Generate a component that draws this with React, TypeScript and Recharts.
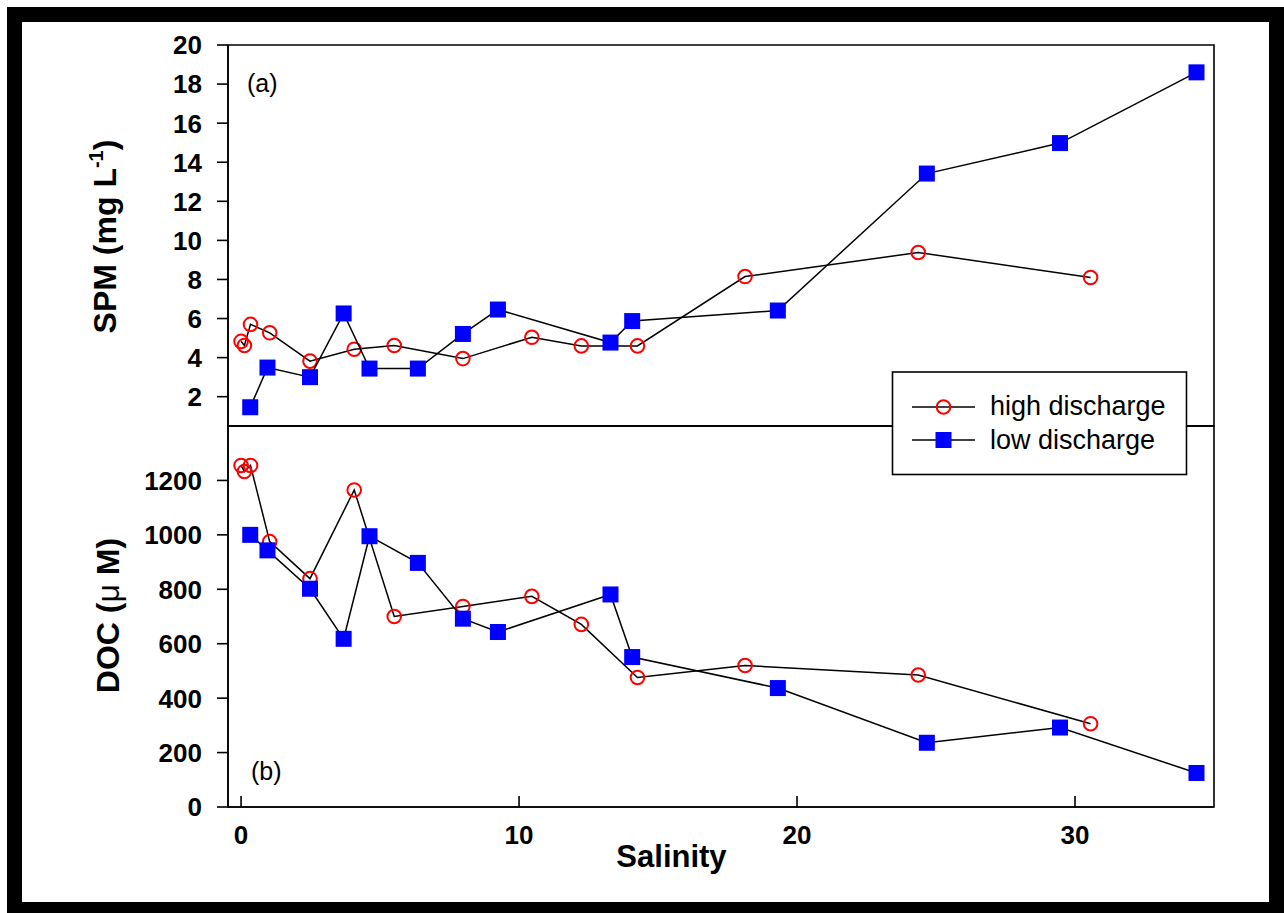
import React from 'react';
import { ScatterChart, Scatter, XAxis, YAxis, ReferenceArea } from 'recharts';

// ---- data ----
const highSalinity = [0.0, 0.12, 0.34, 1.03, 2.48, 4.07, 5.51, 7.98, 10.46, 12.24, 14.26, 18.13, 24.36, 30.56];
const highSPM = [4.83, 4.62, 5.7, 5.27, 3.82, 4.43, 4.62, 3.95, 5.04, 4.6, 4.6, 8.15, 9.38, 8.1];
const highDOC = [1255, 1233, 1255, 975, 839, 1165, 700, 737, 774, 671, 476, 520, 485, 306];

const lowSalinity = [0.33, 0.95, 2.48, 3.69, 4.62, 6.36, 7.98, 9.24, 13.29, 14.07, 19.31, 24.67, 29.46, 34.37];
const lowSPM = [1.46, 3.49, 3.0, 6.26, 3.44, 3.44, 5.21, 6.46, 4.77, 5.87, 6.41, 13.42, 14.98, 18.6];
const lowDOC = [1000, 943, 802, 618, 995, 897, 692, 643, 781, 551, 437, 236, 292, 125];

const salinityTicks = [0, 10, 20, 30];
const midTicks = [10, 20, 30];
const spmTicks = [2, 4, 6, 8, 10, 12, 14, 16, 18, 20];
const docTicks = [0, 200, 400, 600, 800, 1000, 1200];

const salinityDomain: [number, number] = [-0.47, 35];
const spmDomain: [number, number] = [0.5, 20];
const docDomain: [number, number] = [0, 1400];

const seriesNames = ['high discharge', 'low discharge'];

// ---- built tables ----
const highSpmData = highSalinity.map((s, i) => ({ s, v: highSPM[i] }));
const lowSpmData = lowSalinity.map((s, i) => ({ s, v: lowSPM[i] }));
const highDocData = highSalinity.map((s, i) => ({ s, v: highDOC[i] }));
const lowDocData = lowSalinity.map((s, i) => ({ s, v: lowDOC[i] }));

const FONT = '"Liberation Sans", Arial, Helvetica, sans-serif';
const RED = '#ff0000';
const BLUE = '#0000ff';
const axisStyle = { stroke: '#000', strokeWidth: 1.6 };
const lineStyle = { stroke: '#000', strokeWidth: 1.5 };

const CircleShape = (p: any) => (
  <circle cx={p.cx} cy={p.cy} r={6.8} fill="none" stroke={RED} strokeWidth={2} />
);
const SquareShape = (p: any) => (
  <rect x={p.cx - 8} y={p.cy - 8} width={16} height={16} fill={BLUE} />
);

const YTick = (props: any) => (
  <text
    x={props.x}
    y={props.y}
    dy="0.36em"
    textAnchor="end"
    fontFamily={FONT}
    fontWeight="bold"
    fontSize={26}
    fill="#000"
  >
    {props.payload.value}
  </text>
);

const XTick = (props: any) => (
  <text
    x={props.x}
    y={props.y}
    textAnchor="middle"
    fontFamily={FONT}
    fontWeight="bold"
    fontSize={26}
    fill="#000"
  >
    {props.payload.value}
  </text>
);

export default function App() {
  return (
    <div style={{ position: 'absolute', left: 0, top: 0, width: 1284, height: 913, background: '#fff' }}>
      {/* outer black frame */}
      <div style={{ position: 'absolute', left: 7, top: 7, width: 1277, height: 906, background: '#000' }} />
      <div style={{ position: 'absolute', left: 22, top: 22, width: 1247, height: 880, background: '#fff' }} />

      {/* top panel: SPM */}
      <div style={{ position: 'absolute', left: 0, top: 0 }}>
        <ScatterChart width={1284} height={460} margin={{ top: 45, right: 70, bottom: 4, left: 168 }}>
          <XAxis
            type="number"
            dataKey="s"
            domain={salinityDomain}
            allowDataOverflow
            ticks={salinityTicks}
            interval={0}
            tickSize={11}
            tick={false}
            height={30}
            axisLine={axisStyle}
            tickLine={axisStyle}
          />
          <YAxis
            type="number"
            dataKey="v"
            domain={spmDomain}
            allowDataOverflow
            ticks={spmTicks}
            interval={0}
            tickSize={11}
            tickMargin={15}
            width={60}
            tick={<YTick />}
            axisLine={axisStyle}
            tickLine={axisStyle}
          />
          <ReferenceArea
            x1={salinityDomain[0]}
            x2={salinityDomain[1]}
            y1={spmDomain[0]}
            y2={spmDomain[1]}
            fill="none"
            stroke="#000"
            strokeWidth={1.6}
            ifOverflow="visible"
          />
          <Scatter name={seriesNames[0]} data={highSpmData} line={lineStyle} shape={CircleShape} isAnimationActive={false} />
          <Scatter name={seriesNames[1]} data={lowSpmData} line={lineStyle} shape={SquareShape} isAnimationActive={false} />
        </ScatterChart>
      </div>

      {/* bottom panel: DOC */}
      <div style={{ position: 'absolute', left: 0, top: 0 }}>
        <ScatterChart width={1284} height={913} margin={{ top: 416, right: 70, bottom: 46, left: 168 }}>
          <XAxis
            xAxisId="mid"
            orientation="top"
            type="number"
            dataKey="s"
            domain={salinityDomain}
            allowDataOverflow
            ticks={midTicks}
            interval={0}
            tickSize={11}
            tick={false}
            height={10}
            axisLine={false}
            tickLine={axisStyle}
          />
          <XAxis
            type="number"
            dataKey="s"
            domain={salinityDomain}
            allowDataOverflow
            ticks={salinityTicks}
            interval={0}
            tickSize={-11}
            tickMargin={48}
            height={60}
            tick={<XTick />}
            axisLine={axisStyle}
            tickLine={axisStyle}
          />
          <YAxis
            type="number"
            dataKey="v"
            domain={docDomain}
            allowDataOverflow
            ticks={docTicks}
            interval={0}
            tickSize={11}
            tickMargin={15}
            width={60}
            tick={<YTick />}
            axisLine={axisStyle}
            tickLine={axisStyle}
          />
          <ReferenceArea
            x1={salinityDomain[0]}
            x2={salinityDomain[1]}
            y1={docDomain[0]}
            y2={docDomain[1]}
            fill="none"
            stroke="#000"
            strokeWidth={1.6}
            ifOverflow="visible"
          />
          <Scatter name={seriesNames[0]} data={highDocData} line={lineStyle} shape={CircleShape} isAnimationActive={false} />
          <Scatter name={seriesNames[1]} data={lowDocData} line={lineStyle} shape={SquareShape} isAnimationActive={false} />
        </ScatterChart>
      </div>

      {/* labels and legend */}
      <svg
        width={1284}
        height={913}
        style={{ position: 'absolute', left: 0, top: 0, pointerEvents: 'none' }}
        fontFamily={FONT}
      >
        <text transform="translate(116,236.5) rotate(-90)" textAnchor="middle" fontWeight="bold" fontSize={32} fill="#000">
          SPM (mg L
          <tspan dy={-13} fontSize={20}>-1</tspan>
          <tspan dy={13}>)</tspan>
        </text>
        <text transform="translate(119,615.5) rotate(-90)" textAnchor="middle" fontWeight="bold" fontSize={32} fill="#000">
          DOC (<tspan fontWeight="normal">μ</tspan> M)
        </text>
        <text x={671.5} y={867} textAnchor="middle" fontWeight="bold" fontSize={31} fill="#000">
          Salinity
        </text>
        <text x={247} y={91.5} fontSize={25} fill="#000">(a)</text>
        <text x={251} y={780} fontSize={25} fill="#000">(b)</text>

        <rect x={892.5} y={372} width={294} height={102.5} fill="#fff" stroke="#000" strokeWidth={1.6} />
        <line x1={912} x2={975} y1={407} y2={407} stroke="#000" strokeWidth={1.5} />
        <circle cx={943.5} cy={407} r={6.8} fill="none" stroke={RED} strokeWidth={2} />
        <text x={990} y={415} fontSize={27} fill="#000">{seriesNames[0]}</text>
        <line x1={912} x2={975} y1={440} y2={440} stroke="#000" strokeWidth={1.5} />
        <rect x={935.5} y={432} width={16} height={16} fill={BLUE} />
        <text x={990} y={448.5} fontSize={27} fill="#000">{seriesNames[1]}</text>
      </svg>
    </div>
  );
}
